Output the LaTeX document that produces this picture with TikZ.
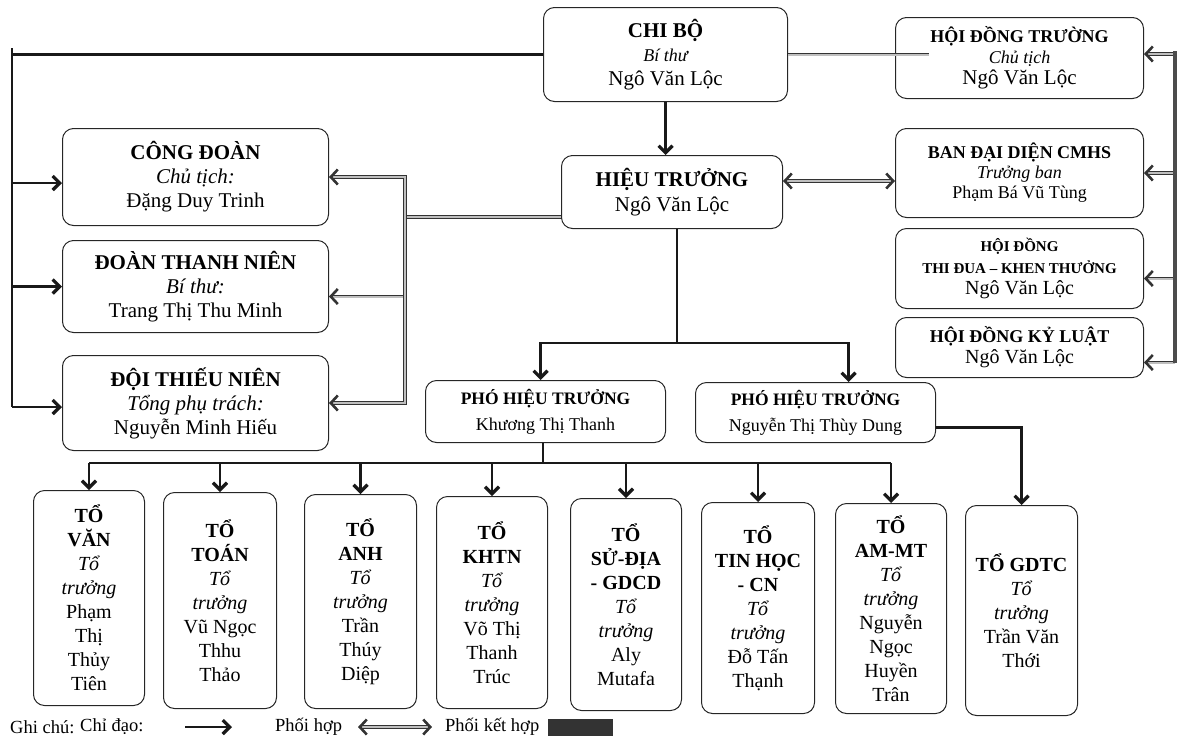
\documentclass[tikz,border=0pt]{standalone}
\usepackage{fontspec}
\setmainfont{Liberation Serif}
\usetikzlibrary{arrows.meta,calc}
\newcommand\myfs[2]{\fontsize{#1}{#2}\selectfont}
\begin{document}
\begin{tikzpicture}[x=1pt,y=-1pt,
  box/.style={draw=black!85, line width=1pt, rounded corners=11pt, align=center, inner sep=0pt, anchor=north west},
  dline/.style={draw=black!90, line width=2.2pt},
  dtip/.tip={Straight Barb[length=7pt,width=14pt,line width=3.2pt]},
  ctip/.tip={Straight Barb[length=7pt,width=15pt,line width=2.6pt]},
  direct/.style={dline, -dtip},
  coopline/.style={draw=black!80, line width=0.9pt, double=black!25, double distance=2pt},
  coop/.style={coopline, -ctip},
  coopboth/.style={coopline, ctip-ctip},
  joint/.style={draw=black!70, line width=4.5pt},
  lbl/.style={anchor=west, inner sep=0pt, font=\myfs{18.5}{22}},
]
\path[use as bounding box] (0,0) rectangle (1185,742);

% top
\node[box, minimum width=244pt, minimum height=94pt, font=\myfs{21}{24}] (chibo) at (543,7)
  {\textbf{CHI BỘ}\\{\myfs{18}{24}\itshape Bí thư}\\Ngô Văn Lộc};
\node[box, minimum width=221pt, minimum height=73pt, font=\myfs{21}{25}] (ht) at (561,155)
  {\textbf{HIỆU TRƯỞNG}\\Ngô Văn Lộc};

% right
\node[box, minimum width=248pt, minimum height=81pt, font=\myfs{21}{21}] (hdt) at (895,17)
  {{\myfs{18}{21}\bfseries HỘI ĐỒNG TRƯỜNG}\\{\myfs{18}{21}\itshape Chủ tịch}\\Ngô Văn Lộc};
\node[box, minimum width=248pt, minimum height=89pt, font=\myfs{18}{20}] (ban) at (895,128)
  {\textbf{BAN ĐẠI DIỆN CMHS}\\\textit{Trưởng ban}\\Phạm Bá Vũ Tùng};
\node[box, minimum width=248pt, minimum height=80pt, font=\myfs{20}{21.5}] (thidua) at (895,228)
  {{\myfs{15}{21.5}\bfseries HỘI ĐỒNG}\\{\myfs{15}{21.5}\bfseries THI ĐUA – KHEN THƯỞNG}\\Ngô Văn Lộc};
\node[box, minimum width=248pt, minimum height=60pt, font=\myfs{20}{21}] (kyluat) at (895,317)
  {{\myfs{18}{21}\bfseries HỘI ĐỒNG KỶ LUẬT}\\Ngô Văn Lộc};

% left
\node[box, minimum width=266pt, minimum height=97pt, font=\myfs{21}{24}] (congdoan) at (62,128)
  {\textbf{CÔNG ĐOÀN}\\\textit{Chủ tịch:}\\Đặng Duy Trinh};
\node[box, minimum width=266pt, minimum height=92pt, font=\myfs{21}{24}] (doan) at (62,240)
  {\textbf{ĐOÀN THANH NIÊN}\\\textit{Bí thư:}\\Trang Thị Thu Minh};
\node[box, minimum width=266pt, minimum height=95pt, font=\myfs{21}{24}] (doi) at (62,355)
  {\textbf{ĐỘI THIẾU NIÊN}\\\textit{Tổng phụ trách:}\\Nguyễn Minh Hiếu};

% vice principals
\node[box, minimum width=240pt, minimum height=62pt, font=\myfs{18}{26}] (pht1) at (425,380)
  {{\myfs{17.5}{26}\bfseries PHÓ HIỆU TRƯỞNG}\\Khương Thị Thanh};
\node[box, minimum width=240pt, minimum height=60pt, font=\myfs{18}{26}] (pht2) at (695,382)
  {{\myfs{17.5}{26}\bfseries PHÓ HIỆU TRƯỞNG}\\Nguyễn Thị Thùy Dung};

% groups
\tikzset{tobox/.style={box, font=\myfs{20}{24}}}
\node[tobox, minimum width=111pt, minimum height=215pt] (to1) at (33,490)
  {\textbf{TỔ}\\\textbf{VĂN}\\\textit{Tổ}\\\textit{trưởng}\\Phạm\\Thị\\Thủy\\Tiên};
\node[tobox, minimum width=113pt, minimum height=216pt] (to2) at (163,492)
  {\textbf{TỔ}\\\textbf{TOÁN}\\\textit{Tổ}\\\textit{trưởng}\\Vũ Ngọc\\Thhu\\Thảo};
\node[tobox, minimum width=112pt, minimum height=214pt] (to3) at (304,494)
  {\textbf{TỔ}\\\textbf{ANH}\\\textit{Tổ}\\\textit{trưởng}\\Trần\\Thúy\\Diệp};
\node[tobox, minimum width=111pt, minimum height=212pt] (to4) at (436,496)
  {\textbf{TỔ}\\\textbf{KHTN}\\\textit{Tổ}\\\textit{trưởng}\\Võ Thị\\Thanh\\Trúc};
\node[tobox, minimum width=111pt, minimum height=212pt] (to5) at (570,498)
  {\textbf{TỔ}\\\textbf{SỬ-ĐỊA}\\\textbf{- GDCD}\\\textit{Tổ}\\\textit{trưởng}\\Aly\\Mutafa};
\node[tobox, minimum width=113pt, minimum height=211pt] (to6) at (701,502)
  {\textbf{TỔ}\\\textbf{TIN HỌC}\\\textbf{- CN}\\\textit{Tổ}\\\textit{trưởng}\\Đỗ Tấn\\Thạnh};
\node[tobox, minimum width=111pt, minimum height=210pt] (to7) at (835,503)
  {\textbf{TỔ}\\\textbf{AM-MT}\\\textit{Tổ}\\\textit{trưởng}\\Nguyễn\\Ngọc\\Huyền\\Trân};
\node[tobox, minimum width=112pt, minimum height=210pt] (to8) at (965,505)
  {\textbf{TỔ GDTC}\\\textit{Tổ}\\\textit{trưởng}\\Trần Văn\\Thới};

% ---- connectors
% left bus (chi bo)
\coordinate (lbT) at (12,48);
\coordinate (lbB) at (12,407);
\draw[dline, line width=2.6pt] (lbT) -- (lbB);
\draw[dline, line width=2.6pt] (chibo.west) -- (chibo.west -| lbT);
\coordinate (cdL) at ([yshift=-6pt]congdoan.west);
\coordinate (doiL) at ([yshift=-4pt]doi.west);
\draw[direct] (cdL -| lbT) -- (cdL);
\draw[direct] (doan.west -| lbT) -- (doan.west);
\draw[direct] (doiL -| lbT) -- (doiL);

% chi bo -> hieu truong
\draw[direct] (chibo.south) -- (chibo.south |- ht.north);

% chi bo -- hoi dong truong
\coordinate (hdtIn) at ([xshift=34pt]hdt.west);
\draw[coopline] (chibo.east) -- (chibo.east -| hdtIn);

% inner coordination bus
\coordinate (ibX) at (405,0);
\coordinate (doanR) at ([yshift=-10pt]doan.east);
\coordinate (htL) at ([yshift=-25pt]ht.west);
\draw[coop] (doanR -| ibX) -- (doanR);
\draw[coopline] (htL) -- (htL -| ibX);
\draw[coopboth] (congdoan.east) -- (congdoan.east -| ibX) -- (doi.east -| ibX) -- (doi.east);

% hieu truong <-> ban dai dien
\coordinate (htR) at ([yshift=11pt]ht.east);
\draw[coopboth] (htR) -- (htR -| ban.west);

% right bus
\coordinate (rbX) at (1175,0);
\coordinate (hdtR) at ([yshift=4pt]hdt.east);
\coordinate (tdR) at ([yshift=-10pt]thidua.east);
\coordinate (klR) at ([yshift=-15pt]kyluat.east);
\draw[coop] (hdtR -| rbX) -- (hdtR);
\draw[coop] (ban.east -| rbX) -- (ban.east);
\draw[coop] (tdR -| rbX) -- (tdR);
\draw[coop] (klR -| rbX) -- (klR);
\draw[joint] ([yshift=3pt]hdtR -| rbX) -- (klR -| rbX);

% hieu truong -> pho hieu truong
\coordinate (hj) at (677,343);
\draw[dline] (ht.south -| hj) -- (hj);
\draw[direct] (hj) -| ([xshift=-5pt]pht1.north);
\draw[direct] (hj) -| ([xshift=33pt]pht2.north);

% pho hieu truong 1 -> groups
\coordinate (tb) at (543,463);
\draw[dline] (pht1.south -| tb) -- (tb);
\draw[dline] (to1.north |- tb) -- (to7.north |- tb);
\foreach \t in {to1,to2,to3,to4,to5,to6,to7}
  \draw[direct] (\t.north |- tb) -- (\t.north);

% pho hieu truong 2 -> GDTC
\coordinate (p2R) at ([yshift=-15pt]pht2.east);
\draw[direct, line width=2.6pt] (p2R) -| (to8.north);

% legend
\node[lbl] (lg1) at (10,727) {Ghi chú:};
\node[lbl] (lg2) at (80,727) {Chỉ đạo:};
\coordinate (la1) at (185,727);
\coordinate (la2) at (232,727);
\draw[direct] (la1) -- (la2);
\node[lbl] (lg3) at (275,727) {Phối hợp};
\coordinate (lb1) at (358,727);
\coordinate (lb2) at (432,727);
\draw[coopboth] (lb1) -- (lb2);
\node[lbl] (lg4) at (445,727) {Phối kết hợp};
\node[fill=black!80, minimum width=65pt, minimum height=17pt, inner sep=0pt, anchor=west] (lg5) at (548,727) {};
\end{tikzpicture}
\end{document}
